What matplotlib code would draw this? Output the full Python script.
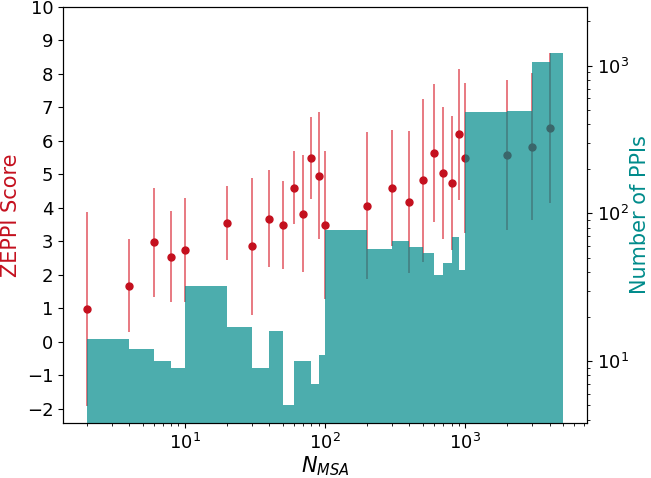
import numpy as np
import matplotlib
matplotlib.use("Agg")
import matplotlib.pyplot as plt
from matplotlib.colors import to_rgba

# bin edges of N_MSA and the number of PPIs in each bin
bin_edges = [2, 4, 6, 8, 10, 20, 30, 40, 50, 60, 70, 80, 90, 100,
             200, 300, 400, 500, 600, 700, 800, 900, 1000, 2000, 3000, 4000, 5000]
n_ppis = [14, 12, 10, 9, 32, 17, 9, 16, 5, 10, 10, 7, 11,
          77, 57, 65, 59, 54, 38, 46, 69, 41, 483, 490, 1054, 1213]

# ZEPPI score (mean +- error) at the left edge of each bin
n_msa = bin_edges[:-1]
zeppi = [0.99, 1.68, 2.98, 2.55, 2.75, 3.56, 2.85, 3.68, 3.49, 4.61, 3.83, 5.50, 4.96,
         3.49, 4.07, 4.59, 4.17, 4.83, 5.63, 5.04, 4.75, 6.20, 5.49, 5.59, 5.83, 6.40]
zeppi_err = [2.9, 1.38, 1.63, 1.36, 1.55, 1.1, 2.05, 1.45, 1.3, 1.1, 1.75, 1.23, 1.9,
             2.2, 2.2, 1.74, 2.12, 2.43, 2.06, 1.98, 2.0, 1.95, 2.23, 2.24, 2.2, 2.24]

red = '#c4101e'
teal = 'darkcyan'

fig = plt.figure(figsize=(6.51, 4.78), dpi=100)
ax = fig.add_subplot(111)
fig.subplots_adjust(left=0.0968, right=0.9017, top=0.9854, bottom=0.1151)

ax.errorbar(n_msa, zeppi, yerr=zeppi_err, fmt='o', color=red, markersize=5,
            ecolor=to_rgba('#d8202e', 0.65), elinewidth=1.3)
ax.set_xscale('log')
ax.set_ylim(-2.42, 10)
ax.set_yticks(np.arange(-2, 11, 1))
ax.set_ylabel('ZEPPI Score', color=red, fontsize=15)
ax.set_xlabel('$N_{MSA}$', fontsize=15, labelpad=1)
ax.tick_params(labelsize=13)

ax2 = ax.twinx()
widths = np.diff(bin_edges)
ax2.bar(bin_edges[:-1], n_ppis, width=widths, align='edge', color=teal, alpha=0.7)
ax2.set_yscale('log')
ax2.set_ylim(3.8, 2500)
ax2.set_ylabel('Number of PPIs', color=teal, fontsize=15, labelpad=1)
ax2.tick_params(labelsize=13)

ax.set_xlim(1.35, 7400)

fig.savefig('out.png', dpi=100)
